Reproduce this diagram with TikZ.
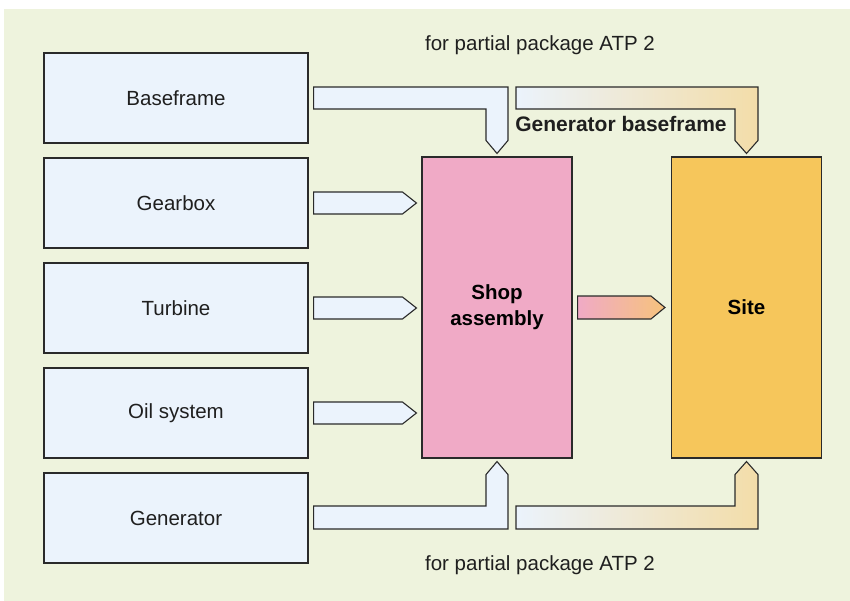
\documentclass[tikz,border=0pt]{standalone}
\usepackage{fontspec}
\setmainfont{Liberation Sans}
\usetikzlibrary{calc}
\definecolor{bgc}{HTML}{EEF3DD}
\definecolor{boxblue}{HTML}{EBF3FC}
\definecolor{pinkc}{HTML}{F0AAC6}
\definecolor{sitec}{HTML}{F6C65B}
\definecolor{tanc}{HTML}{F3DDA9}
\definecolor{midor}{HTML}{F6C37C}
\definecolor{edgec}{HTML}{2A2A2A}
\begin{document}
\begin{tikzpicture}[x=1pt,y=-1pt,
  font=\fontsize{20.5}{24}\selectfont,
  box/.style={draw=edgec, line width=1.1pt, fill=boxblue, minimum width=264pt, minimum height=90pt, inner sep=0pt, text=black!88},
  bigbox/.style={draw=edgec, line width=1.1pt, minimum width=150pt, minimum height=301pt, inner sep=0pt, font=\fontsize{20.5}{26}\selectfont\bfseries, align=center},
  barrow/.style={draw=edgec, line width=1.1pt, line join=miter},
  lbl/.style={text=black!88, inner sep=0pt}]
\useasboundingbox (0,0) rectangle (850,601);
\fill[bgc] (4,9) rectangle (850,601);

\node[box] (base) at (176,98) {Baseframe};
\node[box] (gear) at (176,203) {Gearbox};
\node[box] (turb) at (176,308) {Turbine};
\node[box] (oil)  at (176,413) {Oil system};
\node[box] (gen)  at (176,518) {Generator};

\node[bigbox, fill=pinkc] (shop) at (497,307.5) {Shop\\assembly};
\node[bigbox, fill=sitec] (site) at (746.5,307.5) {Site};

\node[lbl] (toplbl) at (540,45) {for partial package ATP 2};
\node[lbl] (botlbl) at (540,565) {for partial package ATP 2};
\node[lbl, font=\fontsize{21}{24}\selectfont\bfseries] (gblbl) at (621,124) {Generator baseframe};

% horizontal arrows into shop
\foreach \src in {gear,turb,oil}{
  \draw[barrow, fill=boxblue]
    ($(\src.east)+(5,-11)$) -- ($(\src.east -| shop.west)+(-19,-11)$)
    -- ($(\src.east -| shop.west)+(-5,0)$)
    -- ($(\src.east -| shop.west)+(-19,11)$) -- ($(\src.east)+(5,11)$) -- cycle;
}
% shop -> site
\draw[barrow, left color=pinkc, right color=midor]
  ($(shop.east)+(5,-11.5)$) -- ($(shop.east -| site.west)+(-20,-11.5)$)
  -- ($(shop.east -| site.west)+(-6,0)$)
  -- ($(shop.east -| site.west)+(-20,11.5)$) -- ($(shop.east)+(5,11.5)$) -- cycle;

% baseframe -> shop (top)
\draw[barrow, fill=boxblue]
  ($(base.east)+(5,-11)$) -- ($(base.east -| shop.north)+(11,-11)$)
  -- ($(shop.north)+(11,-16)$) -- ($(shop.north)+(0,-3)$) -- ($(shop.north)+(-11,-16)$)
  -- ($(base.east -| shop.north)+(-11,11)$) -- ($(base.east)+(5,11)$) -- cycle;
% generator baseframe -> site (top)
\draw[barrow, left color=boxblue, right color=tanc]
  ($(base.east -| shop.north)+(19,-11)$) -- ($(base.east -| site.north)+(11.5,-11)$)
  -- ($(site.north)+(11.5,-16)$) -- ($(site.north)+(0,-3)$) -- ($(site.north)+(-11.5,-16)$)
  -- ($(base.east -| site.north)+(-11.5,11)$) -- ($(base.east -| shop.north)+(19,11)$) -- cycle;

% generator -> shop (bottom)
\draw[barrow, fill=boxblue]
  ($(gen.east)+(5,11)$) -- ($(gen.east -| shop.south)+(11,11)$)
  -- ($(shop.south)+(11,16)$) -- ($(shop.south)+(0,3)$) -- ($(shop.south)+(-11,16)$)
  -- ($(gen.east -| shop.south)+(-11,-12)$) -- ($(gen.east)+(5,-12)$) -- cycle;
% generator -> site (bottom)
\draw[barrow, left color=boxblue, right color=tanc]
  ($(gen.east -| shop.south)+(19,11)$) -- ($(gen.east -| site.south)+(11.5,11)$)
  -- ($(site.south)+(11.5,16)$) -- ($(site.south)+(0,3)$) -- ($(site.south)+(-11.5,16)$)
  -- ($(gen.east -| site.south)+(-11.5,-12)$) -- ($(gen.east -| shop.south)+(19,-12)$) -- cycle;
\end{tikzpicture}
\end{document}
